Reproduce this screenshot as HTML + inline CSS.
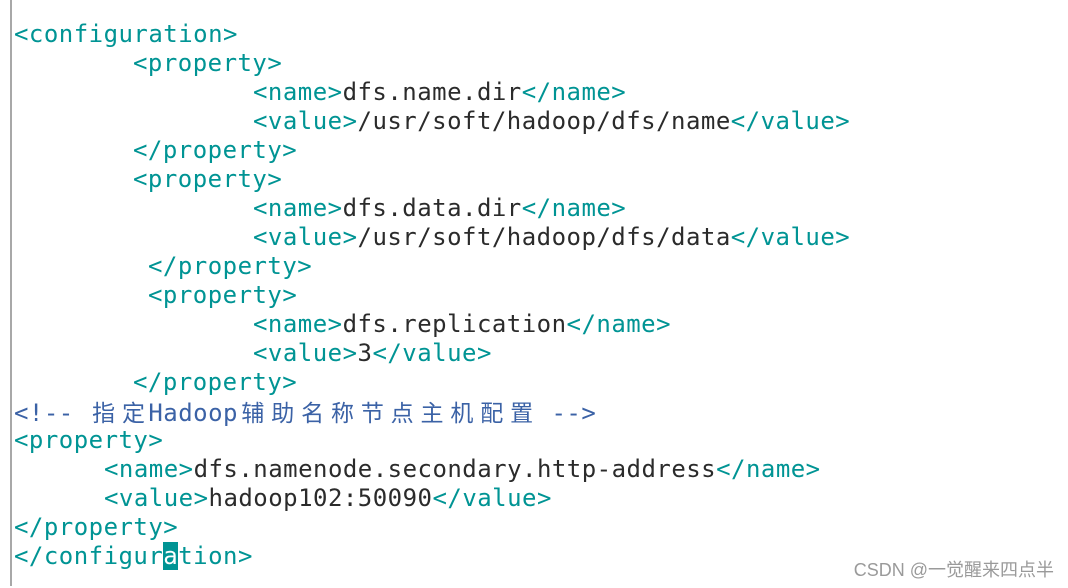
<!DOCTYPE html>
<html><head><meta charset="utf-8"><style>
body{margin:0;width:1068px;height:586px;background:#fff;position:relative;overflow:hidden}
.bar{position:absolute;left:10px;top:0;width:2px;height:586px;background:#a8a8a8}
.w{position:absolute;left:0;top:2px;width:1068px;height:586px}
.l{position:absolute;height:29px;line-height:29px;font-family:"DejaVu Sans Mono","Liberation Mono",monospace;font-size:24px;letter-spacing:0.48px;white-space:pre;color:#2b2b2b}
.t{color:#009494}
.c{color:#3b62a6}
.cj{display:inline-block;width:29.86px;text-align:center;font-family:"Noto Sans CJK SC",sans-serif;font-size:23px;letter-spacing:0}
.cur{background:#009494;color:#fff}
.wm{position:absolute;right:14px;top:556px;font-family:"Liberation Sans","Noto Sans CJK SC",sans-serif;font-size:18px;color:#9a9a9a}
</style></head><body>
<div class="bar"></div>
<div class="w">
<div class="l" style="left:14px;top:18px"><span class="t">&lt;configuration&gt;</span></div>
<div class="l" style="left:133px;top:47px"><span class="t">&lt;property&gt;</span></div>
<div class="l" style="left:253px;top:76px"><span class="t">&lt;name&gt;</span>dfs.name.dir<span class="t">&lt;/name&gt;</span></div>
<div class="l" style="left:253px;top:105px"><span class="t">&lt;value&gt;</span>/usr/soft/hadoop/dfs/name<span class="t">&lt;/value&gt;</span></div>
<div class="l" style="left:133px;top:134px"><span class="t">&lt;/property&gt;</span></div>
<div class="l" style="left:133px;top:163px"><span class="t">&lt;property&gt;</span></div>
<div class="l" style="left:253px;top:192px"><span class="t">&lt;name&gt;</span>dfs.data.dir<span class="t">&lt;/name&gt;</span></div>
<div class="l" style="left:253px;top:221px"><span class="t">&lt;value&gt;</span>/usr/soft/hadoop/dfs/data<span class="t">&lt;/value&gt;</span></div>
<div class="l" style="left:148px;top:250px"><span class="t">&lt;/property&gt;</span></div>
<div class="l" style="left:148px;top:279px"><span class="t">&lt;property&gt;</span></div>
<div class="l" style="left:253px;top:308px"><span class="t">&lt;name&gt;</span>dfs.replication<span class="t">&lt;/name&gt;</span></div>
<div class="l" style="left:253px;top:337px"><span class="t">&lt;value&gt;</span>3<span class="t">&lt;/value&gt;</span></div>
<div class="l" style="left:133px;top:366px"><span class="t">&lt;/property&gt;</span></div>
<div class="l c" style="left:14px;top:395px">&lt;!-- <span class="cj">指</span><span class="cj">定</span>Hadoop<span class="cj">辅</span><span class="cj">助</span><span class="cj">名</span><span class="cj">称</span><span class="cj">节</span><span class="cj">点</span><span class="cj">主</span><span class="cj">机</span><span class="cj">配</span><span class="cj">置</span> --&gt;</div>
<div class="l" style="left:14px;top:424px"><span class="t">&lt;property&gt;</span></div>
<div class="l" style="left:104px;top:453px"><span class="t">&lt;name&gt;</span>dfs.namenode.secondary.http-address<span class="t">&lt;/name&gt;</span></div>
<div class="l" style="left:104px;top:482px"><span class="t">&lt;value&gt;</span>hadoop102:50090<span class="t">&lt;/value&gt;</span></div>
<div class="l" style="left:14px;top:511px"><span class="t">&lt;/property&gt;</span></div>
<div class="l" style="left:14px;top:540px"><span class="t">&lt;/configur</span><span class="cur">a</span><span class="t">tion&gt;</span></div>
</div>
<div class="wm">CSDN @一觉醒来四点半</div>
</body></html>
